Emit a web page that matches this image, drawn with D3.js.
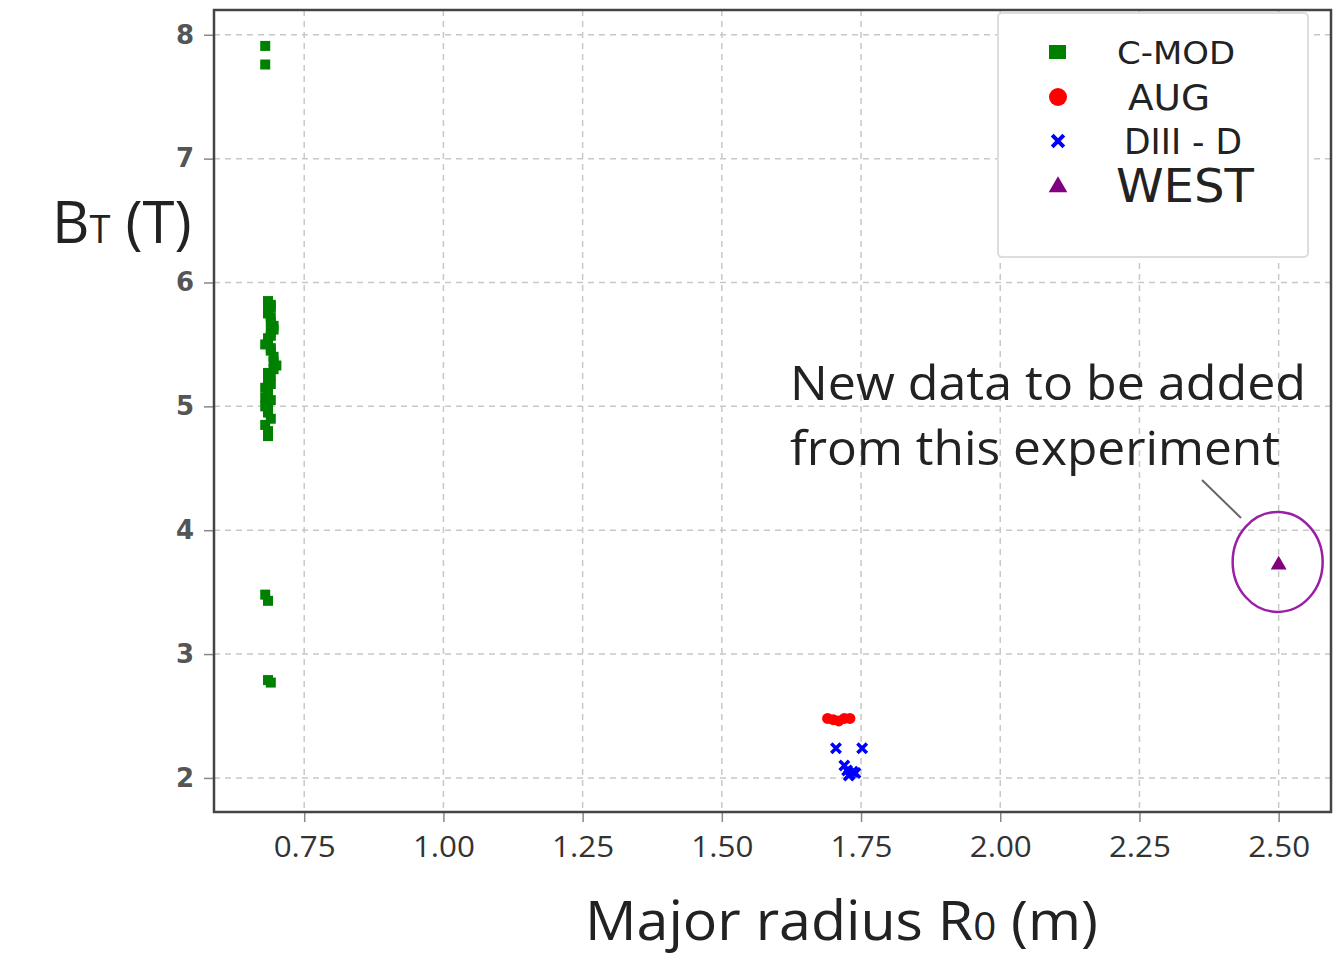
<!DOCTYPE html>
<html lang="en">
<head>
<meta charset="UTF-8">
<title>BT vs major radius</title>
<script src="https://d3js.org/d3.v7.min.js"></script>
<style>
  body { margin: 0; background: #fff; }
</style>
</head>
<body>
<script>
// data
var cmodR = [0.68, 0.68, 0.685, 0.69, 0.685, 0.69, 0.695, 0.69, 0.685, 0.68, 0.69, 0.695, 0.70, 0.695, 0.69, 0.685, 0.68, 0.685, 0.69, 0.68, 0.685, 0.69, 0.68, 0.685, 0.685,
             0.69, 0.685, 0.69, 0.695, 0.69, 0.685, 0.69, 0.695, 0.685, 0.69, 0.68, 0.685,
             0.68, 0.685, 0.685, 0.69];
var cmodB = [7.91, 7.76, 5.85, 5.82, 5.78, 5.72, 5.65, 5.60, 5.55, 5.50, 5.45, 5.40, 5.33, 5.30, 5.25, 5.22, 5.15, 5.10, 5.05, 5.00, 4.95, 4.90, 4.85, 4.80, 4.76,
             5.80, 5.75, 5.68, 5.62, 5.57, 5.52, 5.47, 5.36, 5.27, 5.18, 5.07, 4.98,
             3.48, 3.43, 2.79, 2.77];
var augR = [1.69, 1.70, 1.71, 1.72, 1.73];
var augB = [2.48, 2.47, 2.46, 2.48, 2.48];
var d3dR = [1.705, 1.752, 1.72, 1.725, 1.73, 1.735, 1.74, 1.728];
var d3dB = [2.24, 2.24, 2.10, 2.06, 2.03, 2.05, 2.04, 2.02];
var westR = [2.50];
var westB = [3.72];
var xTicks = [0.75, 1.00, 1.25, 1.50, 1.75, 2.00, 2.25, 2.50];
var yTicks = [2, 3, 4, 5, 6, 7, 8];
var legendNames = ["C-MOD", "AUG", "DIII - D", "WEST"];

var width = 1343, height = 960;
var margin = {top: 10, right: 12, bottom: 148, left: 214};
var iw = width - margin.left - margin.right;
var ih = height - margin.top - margin.bottom;

var svg = d3.select('body').append('svg').attr('width', width).attr('height', height);
var g = svg.append('g').attr('transform', 'translate(' + margin.left + ',' + margin.top + ')');

var x = d3.scaleLinear().domain([0.588, 2.594]).range([0, iw]);
var y = d3.scaleLinear().domain([1.725, 8.2]).range([ih, 0]);

// grid
g.selectAll('.gx').data(xTicks).enter().append('line')
  .attr('x1', d => x(d)).attr('x2', d => x(d)).attr('y1', 0).attr('y2', ih)
  .attr('stroke', '#c8c8c8').attr('stroke-width', 1.5).attr('stroke-dasharray', '6,5');
g.selectAll('.gy').data(yTicks).enter().append('line')
  .attr('y1', d => y(d)).attr('y2', d => y(d)).attr('x1', 0).attr('x2', iw)
  .attr('stroke', '#c8c8c8').attr('stroke-width', 1.5).attr('stroke-dasharray', '6,5');

// axes
var xAxis = g.append('g').attr('transform', 'translate(0,' + ih + ')')
  .call(d3.axisBottom(x).tickValues(xTicks).tickFormat(d3.format('.2f')).tickSize(10).tickPadding(14));
xAxis.selectAll('text').attr('font-family', '"Open Sans", sans-serif')
  .attr('font-size', 29).attr('fill', '#333').attr('textLength', 62).attr('lengthAdjust', 'spacingAndGlyphs');
var yAxis = g.append('g')
  .call(d3.axisLeft(y).tickValues(yTicks).tickFormat(d3.format('d')).tickSize(10).tickPadding(10));
yAxis.selectAll('text').attr('font-family', '"DejaVu Sans", sans-serif').attr('font-weight', 'bold')
  .attr('font-size', 26).attr('fill', '#555');
g.selectAll('.domain').remove();
g.selectAll('.tick line').attr('stroke', '#888').attr('stroke-width', 1.5);

g.append('rect').attr('width', iw).attr('height', ih)
  .attr('fill', 'none').attr('stroke', '#444').attr('stroke-width', 2.5);

// C-MOD squares
g.selectAll('.cmod').data(cmodR).enter().append('rect')
  .attr('x', d => x(d) - 5).attr('y', (d, i) => y(cmodB[i]) - 5)
  .attr('width', 10).attr('height', 10).attr('fill', '#008000');

// AUG circles
g.selectAll('.aug').data(augR).enter().append('circle')
  .attr('cx', d => x(d)).attr('cy', (d, i) => y(augB[i])).attr('r', 5.5).attr('fill', '#ff0000');

// DIII-D crosses
var sym = d3.symbol().type(d3.symbolTimes).size(60);
g.selectAll('.d3d').data(d3dR).enter().append('path')
  .attr('d', sym).attr('transform', (d, i) => 'translate(' + x(d) + ',' + y(d3dB[i]) + ')')
  .attr('stroke', '#0000ff').attr('stroke-width', 3.5).attr('fill', 'none');

// WEST triangle
var tri = d3.symbol().type(d3.symbolTriangle).size(110);
g.selectAll('.west').data(westR).enter().append('path')
  .attr('d', tri).attr('transform', (d, i) => 'translate(' + x(d) + ',' + y(westB[i]) + ')')
  .attr('fill', '#800080');

// annotation
g.append('ellipse').attr('cx', x(westR[0]) - 1).attr('cy', y(westB[0]) - 3)
  .attr('rx', 45).attr('ry', 50).attr('fill', 'none').attr('stroke', '#9a1fa6').attr('stroke-width', 2.5);
g.append('line').attr('x1', 988).attr('y1', 470).attr('x2', 1027).attr('y2', 508)
  .attr('stroke', '#666').attr('stroke-width', 2);
var annFont = '"Open Sans", sans-serif';
g.append('text').attr('x', 576).attr('y', 390).attr('font-family', annFont).attr('font-size', 48)
  .attr('fill', '#222').attr('textLength', 516).attr('lengthAdjust', 'spacingAndGlyphs').text('New data to be added');
g.append('text').attr('x', 576).attr('y', 455).attr('font-family', annFont).attr('font-size', 48)
  .attr('fill', '#222').attr('textLength', 490).attr('lengthAdjust', 'spacingAndGlyphs').text('from this experiment');

// legend
var lg = svg.append('g');
lg.append('rect').attr('x', 998).attr('y', 13).attr('width', 310).attr('height', 244).attr('rx', 4)
  .attr('fill', '#fff').attr('stroke', '#ddd').attr('stroke-width', 2);
var ly = [52, 97, 141, 185];
var lx = [1117, 1128, 1124, 1116];
var lsize = [32, 36, 36, 46];
var lw = [118, 82, 118, 138];
lg.append('rect').attr('x', 1049).attr('y', 45).attr('width', 17).attr('height', 14).attr('fill', '#008000');
lg.append('circle').attr('cx', 1058).attr('cy', ly[1]).attr('r', 9).attr('fill', '#ff0000');
lg.append('path').attr('d', d3.symbol().type(d3.symbolTimes).size(90))
  .attr('transform', 'translate(1058,' + ly[2] + ')').attr('stroke', '#0000ff').attr('stroke-width', 4).attr('fill', 'none');
lg.append('path').attr('d', d3.symbol().type(d3.symbolTriangle).size(150))
  .attr('transform', 'translate(1058,' + (ly[3] + 2) + ')').attr('fill', '#800080');
lg.selectAll('.lt').data(legendNames).enter().append('text')
  .attr('x', (d, i) => lx[i]).attr('y', (d, i) => ly[i]).attr('dy', '0.36em')
  .attr('font-family', '"DejaVu Sans", sans-serif').attr('font-size', (d, i) => lsize[i])
  .attr('textLength', (d, i) => lw[i]).attr('lengthAdjust', 'spacingAndGlyphs')
  .attr('fill', '#222').text(d => d);

// axis titles
var yt = svg.append('text').attr('x', 52).attr('y', 243).attr('font-family', '"Open Sans", sans-serif')
  .attr('font-size', 58).attr('fill', '#222');
yt.append('tspan').text('B');
yt.append('tspan').attr('font-size', 38).text('T');
yt.append('tspan').text(' (T)');

var xt = svg.append('text').attr('x', 585).attr('y', 940).attr('font-family', '"Open Sans", sans-serif')
  .attr('font-size', 54).attr('fill', '#222').attr('textLength', 513).attr('lengthAdjust', 'spacingAndGlyphs');
xt.append('tspan').text('Major radius R');
xt.append('tspan').attr('font-size', 38).text('0');
xt.append('tspan').text(' (m)');
</script>
</body>
</html>
